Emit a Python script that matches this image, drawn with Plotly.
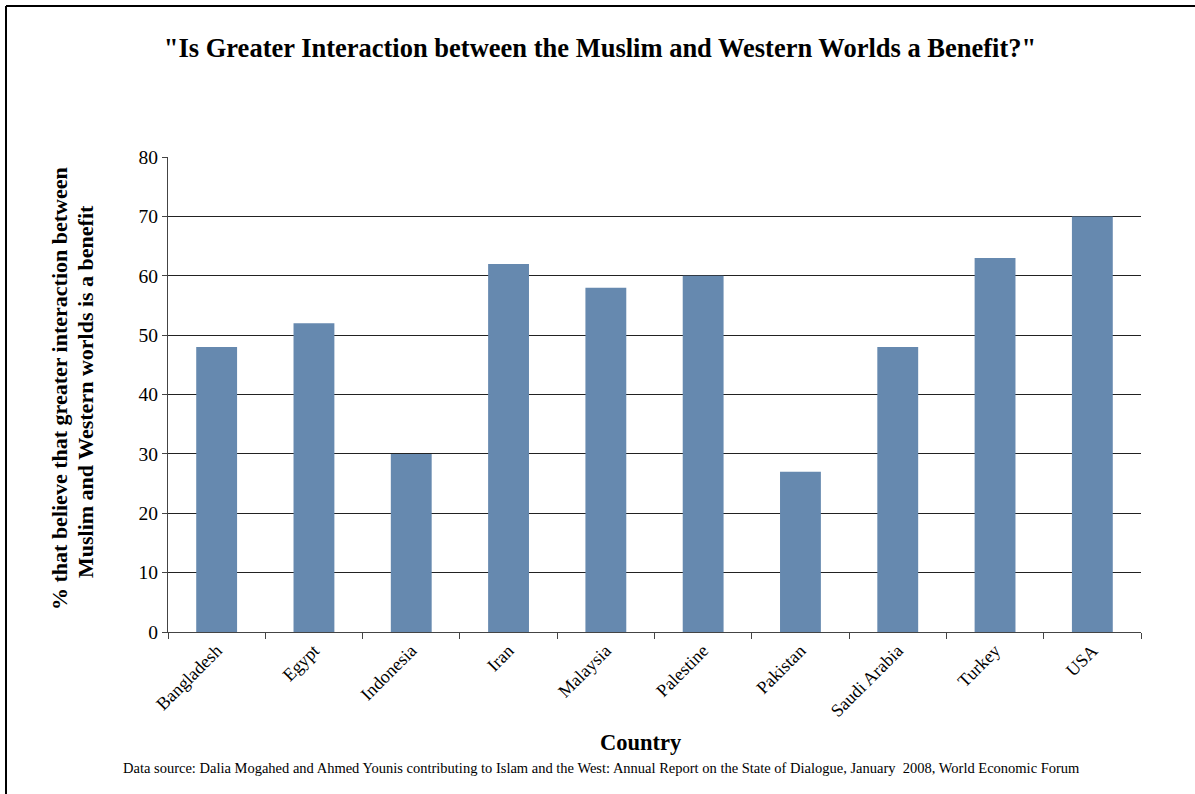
import plotly.graph_objects as go

countries = ["Bangladesh", "Egypt", "Indonesia", "Iran", "Malaysia", "Palestine",
             "Pakistan", "Saudi Arabia", "Turkey", "USA"]
values = [48, 52, 30, 62, 58, 60, 27, 48, 63, 70]
y_ticks = [0, 10, 20, 30, 40, 50, 60, 70, 80]

W, H = 1195, 794
L, R, T, B = 168, 54, 157, 162
pw, ph = W - L - R, H - T - B

def px_x(p):
    return (p - L) / pw

def px_y(p):
    return (H - B - p) / ph

FONT = "Liberation Serif, Times New Roman, serif"

fig = go.Figure(go.Bar(x=countries, y=values, marker=dict(color="#6689AF", line=dict(width=0)),
                       width=0.42))

fig.update_layout(
    width=W, height=H,
    margin=dict(l=L, r=R, t=T, b=B),
    paper_bgcolor="white", plot_bgcolor="white",
    font=dict(family=FONT, color="black"),
    showlegend=False,
    title=dict(text='<b>"Is Greater Interaction between the Muslim and Western Worlds a Benefit?"</b>',
               x=px_x(600), xref="paper", xanchor="center", y=1 - 48 / H, yanchor="middle", yref="container",
               font=dict(size=26.5, family=FONT, color="black")),
    xaxis=dict(type="category", showline=True, linecolor="#444", linewidth=1,
               ticks="outside", tickson="boundaries", ticklen=6, tickcolor="#444",
               tickangle=-45, tickfont=dict(size=18, family=FONT), showgrid=False,
               range=[-0.5, 9.5]),
    yaxis=dict(range=[0, 80], tickvals=y_ticks, showline=True, linecolor="#444", linewidth=1,
               ticks="outside", ticklen=5, tickcolor="#444", tickfont=dict(size=19.5, family=FONT),
               showgrid=True, gridcolor="#222", gridwidth=1, zeroline=False),
    annotations=[
        dict(text="<b>% that believe that greater interaction between</b>",
             x=px_x(59), y=px_y(389), xref="paper", yref="paper", textangle=-90,
             showarrow=False, xanchor="center", yanchor="middle",
             font=dict(size=22, family=FONT)),
        dict(text="<b>Muslim and Western worlds is a benefit</b>",
             x=px_x(85), y=px_y(392), xref="paper", yref="paper", textangle=-90,
             showarrow=False, xanchor="center", yanchor="middle",
             font=dict(size=22, family=FONT)),
        dict(text="<b>Country</b>", x=px_x(641), y=px_y(742), xref="paper", yref="paper",
             showarrow=False, xanchor="center", yanchor="middle", font=dict(size=22.5, family=FONT)),
        dict(text="Data source: Dalia Mogahed and Ahmed Younis contributing to Islam and the West: Annual Report on the State of Dialogue, January  2008, World Economic Forum",
             x=px_x(601), y=px_y(768), xref="paper", yref="paper",
             showarrow=False, xanchor="center", yanchor="middle", font=dict(size=14.5, family=FONT)),
    ],
    shapes=[
        dict(type="line", xref="paper", yref="paper", x0=px_x(6), x1=px_x(6), y0=px_y(H + 20), y1=px_y(6),
             line=dict(color="black", width=2)),
        dict(type="line", xref="paper", yref="paper", x0=px_x(6), x1=px_x(W + 20), y0=px_y(6), y1=px_y(6),
             line=dict(color="black", width=2)),
    ],
)

fig.write_html("out.html", config={"displayModeBar": False},
               post_script="document.body.style.margin='0';")
